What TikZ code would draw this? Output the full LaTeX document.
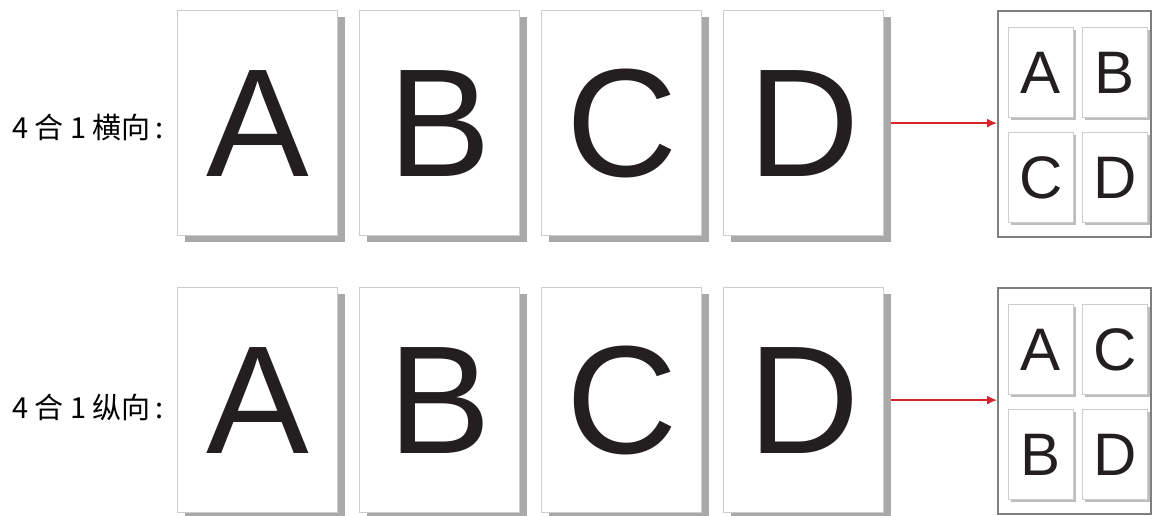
\documentclass[tikz,border=0pt]{standalone}
\usepackage{fontspec}
\setmainfont{Liberation Sans}
\newfontfamily\cjk{Noto Sans CJK SC}
\usetikzlibrary{arrows.meta}
\definecolor{pageedge}{HTML}{CDCDCD}
\definecolor{shadowgray}{HTML}{A9A9A9}
\definecolor{ink}{HTML}{231F20}
\definecolor{boxedge}{HTML}{7F7F7F}
\definecolor{arrowred}{HTML}{D7262B}
\begin{document}
\begin{tikzpicture}[x=1pt,y=-1pt,
  bigpage/.style={draw=pageedge, line width=1.2pt, fill=white,
    minimum width=160pt, minimum height=225pt, anchor=north west, inner sep=0pt,
    font=\fontsize{154}{154}\selectfont, text=ink,
    preaction={fill=shadowgray, transform canvas={xshift=7pt,yshift=-6pt}}},
  smallpage/.style={draw=pageedge, line width=0.9pt, fill=white,
    minimum width=65pt, minimum height=90pt, anchor=north west, inner sep=0pt,
    font=\fontsize{60}{60}\selectfont, text=ink,
    preaction={fill=pageedge!80!gray, transform canvas={xshift=2.5pt,yshift=-2.5pt}}},
  resultbox/.style={draw=boxedge, line width=1.5pt, fill=white,
    minimum width=153pt, minimum height=226pt, anchor=north west, inner sep=0pt},
  rowlabel/.style={anchor=base west, inner sep=0pt, font=\cjk\fontsize{29}{29}\selectfont, text=black},
  redarrow/.style={draw=arrowred, line width=1.4pt, -{Latex[length=10pt,width=9pt]}}
]
\useasboundingbox (0,0) rectangle (1156,515);

% Row 1
\node[rowlabel] (L1) at (12,138) {4 合 1 横向\hspace{5pt}:};
\node[bigpage] (A1) at (177,10) {A};
\node[bigpage] (B1) at (359,10) {B};
\node[bigpage] (C1) at (541,10) {C};
\node[bigpage] (D1) at (723,10) {D};
\node[resultbox] (R1) at (997,10) {};
\node[smallpage] (ra1) at (1008,27) {A};
\node[smallpage] (rb1) at (1082,27) {B};
\node[smallpage] (rc1) at (1008,132) {C};
\node[smallpage] (rd1) at (1082,132) {D};
\draw[redarrow] ([xshift=7pt]D1.east) -- (R1.west |- D1.east);

% Row 2
\node[rowlabel] (L2) at (12,418) {4 合 1 纵向\hspace{5pt}:};
\node[bigpage] (A2) at (177,287) {A};
\node[bigpage] (B2) at (359,287) {B};
\node[bigpage] (C2) at (541,287) {C};
\node[bigpage] (D2) at (723,287) {D};
\node[resultbox] (R2) at (997,287) {};
\node[smallpage] (ra2) at (1008,304) {A};
\node[smallpage] (rc2) at (1082,304) {C};
\node[smallpage] (rb2) at (1008,409) {B};
\node[smallpage] (rd2) at (1082,409) {D};
\draw[redarrow] ([xshift=7pt]D2.east) -- (R2.west |- D2.east);
\end{tikzpicture}
\end{document}
